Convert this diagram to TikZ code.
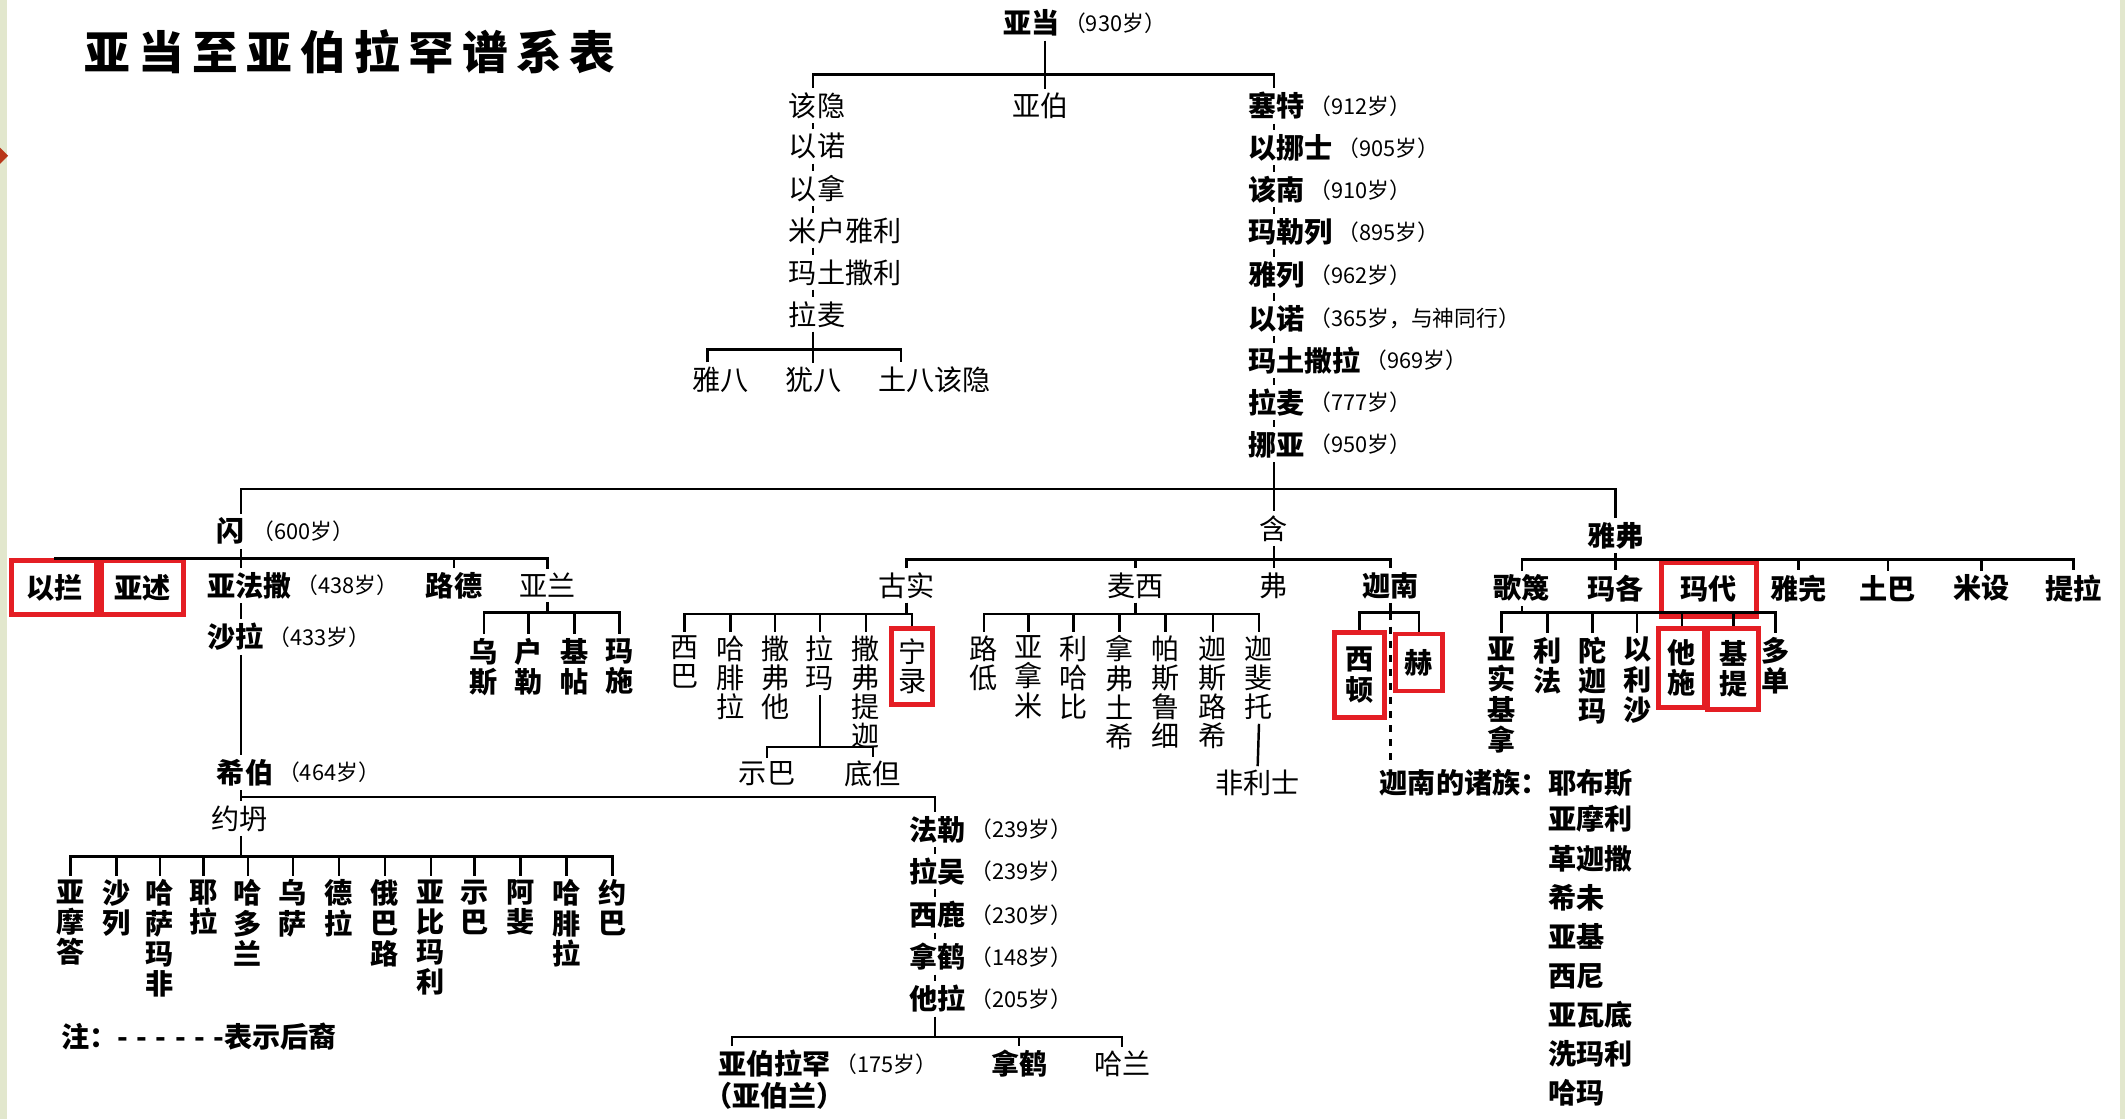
\documentclass[tikz,border=0pt]{standalone}
\usepackage{fontspec}
\setmainfont{Noto Sans CJK SC}
\usetikzlibrary{positioning, calc}
\definecolor{boxRed}{RGB}{228,30,36}
\definecolor{stripGreen}{RGB}{226,231,205}
\definecolor{markRed}{RGB}{185,55,25}

\begin{document}
\begin{tikzpicture}[x=0.013552cm, y=-0.013552cm,
    nm/.style={inner sep=1pt, font=\fontsize{8}{9}\selectfont\bfseries},
    nml/.style={inner sep=1pt, font=\fontsize{8}{9}\selectfont},
    age/.style={inner sep=0pt, font=\fontsize{6.2}{7}\selectfont},
    vt/.style={inner sep=1pt, anchor=north, align=center, font=\fontsize{8}{8.6}\selectfont\bfseries},
    vtl/.style={vt, font=\fontsize{8}{8.3}\selectfont},
    redbox/.style={draw=boxRed, line width=1.4pt, inner sep=0pt},
    link/.style={line width=0.7pt}]

% 页面与边条
\useasboundingbox (0,0) rectangle (1568,826);
\fill[white] (0,0) rectangle (1568,826);
\fill[stripGreen] (0,0) rectangle (5,826);
\fill[stripGreen] (1564,0) rectangle (1568,826);
\fill[markRed] (0,109) -- (6,115) -- (0,121) -- cycle;

% 标题
\node[anchor=west, inner sep=0pt, font=\fontsize{13}{15}\selectfont\bfseries\addfontfeature{LetterSpace=18}] (title) at (62,38) {亚当至亚伯拉罕谱系表};

% 亚当
\node[nm, anchor=west] (adam) at (737,17) {亚当};
\node[age, right=0pt of adam] (adamAge) {（930岁）};
\coordinate (adamBar) at (771,55);
\coordinate (cainCol) at (600,0);
\coordinate (sethCol) at (940,0);
\node[nml] (abel) at (768,78) {亚伯};

% 该隐一支
\node[nml, anchor=west] (cain) at (579,78) {该隐};
\node[nml, anchor=west] (enochC) at (579,108) {以诺};
\node[nml, anchor=west] (irad) at (579,139) {以拿};
\node[nml, anchor=west] (mehujael) at (579,170) {米户雅利};
\node[nml, anchor=west] (methushael) at (579,201) {玛土撒利};
\node[nml, anchor=west] (lamechC) at (579,232) {拉麦};
\draw[link] (cain.south -| cainCol) -- (enochC.north -| cainCol);
\draw[link] (enochC.south -| cainCol) -- (irad.north -| cainCol);
\draw[link] (irad.south -| cainCol) -- (mehujael.north -| cainCol);
\draw[link] (mehujael.south -| cainCol) -- (methushael.north -| cainCol);
\draw[link] (methushael.south -| cainCol) -- (lamechC.north -| cainCol);
\coordinate (lamechBar) at (600,258);
\node[nml] (jabal) at (532,280) {雅八};
\node[nml] (jubal) at (600,280) {犹八};
\node[nml, anchor=west] (tubalcain) at (645,280) {土八该隐};
\draw[link] (lamechC.south -| cainCol) -- (jubal.north -| cainCol);
\draw[link] ($(jabal.north)+(-10,0)$) |- (lamechBar) -| ($(tubalcain.north west)+(20,0)$);

% 塞特一支
\node[nm, anchor=west] (seth) at (918,78) {塞特};
\node[age, right=0pt of seth] (sethAge) {（912岁）};
\node[nm, anchor=west] (enosh) at (918,109) {以挪士};
\node[age, right=0pt of enosh] (enoshAge) {（905岁）};
\node[nm, anchor=west] (kenan) at (918,140) {该南};
\node[age, right=0pt of kenan] (kenanAge) {（910岁）};
\node[nm, anchor=west] (mahalalel) at (918,171) {玛勒列};
\node[age, right=0pt of mahalalel] (mahalalelAge) {（895岁）};
\node[nm, anchor=west] (jared) at (918,203) {雅列};
\node[age, right=0pt of jared] (jaredAge) {（962岁）};
\node[nm, anchor=west] (enochS) at (918,235) {以诺};
\node[age, right=0pt of enochS] (enochSAge) {（365岁，与神同行）};
\node[nm, anchor=west] (methuselah) at (918,266) {玛土撒拉};
\node[age, right=0pt of methuselah] (methuselahAge) {（969岁）};
\node[nm, anchor=west] (lamechS) at (918,297) {拉麦};
\node[age, right=0pt of lamechS] (lamechSAge) {（777岁）};
\node[nm, anchor=west] (noah) at (918,328) {挪亚};
\node[age, right=0pt of noah] (noahAge) {（950岁）};
\draw[link] (seth.south -| sethCol) -- (enosh.north -| sethCol);
\draw[link] (enosh.south -| sethCol) -- (kenan.north -| sethCol);
\draw[link] (kenan.south -| sethCol) -- (mahalalel.north -| sethCol);
\draw[link] (mahalalel.south -| sethCol) -- (jared.north -| sethCol);
\draw[link] (jared.south -| sethCol) -- (enochS.north -| sethCol);
\draw[link] (enochS.south -| sethCol) -- (methuselah.north -| sethCol);
\draw[link] (methuselah.south -| sethCol) -- (lamechS.north -| sethCol);
\draw[link] (lamechS.south -| sethCol) -- (noah.north -| sethCol);

% 亚当的三个儿子
\draw[link] (adam.south -| adamBar) -- (abel.north -| adamBar);
\draw[link] (adamBar) -| (cain.north -| cainCol);
\draw[link] (adamBar) -| (seth.north -| sethCol);

% 挪亚的三个儿子
\coordinate (noahBar) at (940,361);
\coordinate (shemCol) at (178,0);
\node[nm] (shem) at (170,392) {闪};
\node[age, right=1pt of shem] (shemAge) {（600岁）};
\node[nml] (ham) at (940,390) {含};
\node[nm] (japheth) at (1192,395) {雅弗};
\draw[link] (noah.south -| sethCol) -- (noahBar) -- (ham.north);
\draw[link] (noahBar) -| (shem.north -| shemCol);
\draw[link] (noahBar) -| (japheth.north);

% 闪的后代
\coordinate (shemBar) at (178,412);
\node[nm, redbox, anchor=north, minimum width=0.85cm, minimum height=0.54cm] (elam) at (40,412) {以拦};
\node[nm, redbox, anchor=north, minimum width=0.82cm, minimum height=0.54cm] (asshur) at (105,412) {亚述};
\node[nm, anchor=west] (arphaxad) at (150,432) {亚法撒};
\node[age, right=0pt of arphaxad] (arphaxadAge) {（438岁）};
\node[nm] (lud) at (335,432) {路德};
\node[nml] (aram) at (404,432) {亚兰};
\draw[link] (shem.south -| shemCol) -- (shemBar) -- (arphaxad.north -| shemCol);
\draw[link] (shemBar) -| (elam.north);
\draw[link] (shemBar) -| (asshur.north);
\draw[link] (shemBar) -| (lud.north);
\draw[link] (shemBar) -| (aram.north);

% 亚兰的儿子
\coordinate (aramBar) at (404,452);
\node[vt] (uz) at (357,468) {乌\\斯};
\node[vt] (hul) at (390,468) {户\\勒};
\node[vt] (gether) at (424,468) {基\\帖};
\node[vt] (mash) at (457,468) {玛\\施};
\draw[link] (aram.south) -- (aramBar);
\draw[link] (aramBar) -| (uz.north);
\draw[link] (aramBar) -| (hul.north);
\draw[link] (aramBar) -| (gether.north);
\draw[link] (aramBar) -| (mash.north);

% 沙拉、希伯、约坍
\node[nm, anchor=west] (shelah) at (150,470) {沙拉};
\node[age, right=0pt of shelah] (shelahAge) {（433岁）};
\node[nm, anchor=west] (eber) at (157,570) {希伯};
\node[age, right=0pt of eber] (eberAge) {（464岁）};
\node[nml] (joktan) at (177,604) {约坍};
\coordinate (eberBar) at (178,588);
\coordinate (joktanBar) at (178,632);
\draw[link] (arphaxad.south -| shemCol) -- (shelah.north -| shemCol);
\draw[link] (shelah.south -| shemCol) -- (eber.north -| shemCol);
\draw[link] (eber.south -| shemCol) -- (eberBar) -- (joktan.north -| shemCol);
\draw[link] (joktan.south -| shemCol) -- (joktanBar);

% 约坍的儿子
\node[vt] (jk1) at (52,646) {亚\\摩\\答};
\node[vt] (jk2) at (86,646) {沙\\列};
\node[vt] (jk3) at (118,646) {哈\\萨\\玛\\非};
\node[vt] (jk4) at (150,646) {耶\\拉};
\node[vt] (jk5) at (183,646) {哈\\多\\兰};
\node[vt] (jk6) at (216,646) {乌\\萨};
\node[vt] (jk7) at (250,646) {德\\拉};
\node[vt] (jk8) at (284,646) {俄\\巴\\路};
\node[vt] (jk9) at (318,646) {亚\\比\\玛\\利};
\node[vt] (jk10) at (350,646) {示\\巴};
\node[vt] (jk11) at (384,646) {阿\\斐};
\node[vt] (jk12) at (418,646) {哈\\腓\\拉};
\node[vt] (jk13) at (452,646) {约\\巴};
\draw[link] (joktanBar) -| (jk1.north);
\draw[link] (joktanBar) -| (jk2.north);
\draw[link] (joktanBar) -| (jk3.north);
\draw[link] (joktanBar) -| (jk4.north);
\draw[link] (joktanBar) -| (jk5.north);
\draw[link] (joktanBar) -| (jk6.north);
\draw[link] (joktanBar) -| (jk7.north);
\draw[link] (joktanBar) -| (jk8.north);
\draw[link] (joktanBar) -| (jk9.north);
\draw[link] (joktanBar) -| (jk10.north);
\draw[link] (joktanBar) -| (jk11.north);
\draw[link] (joktanBar) -| (jk12.north);
\draw[link] (joktanBar) -| (jk13.north);

% 注
\node[nm, anchor=west] (note) at (42,765) {注：{\addfontfeature{LetterSpace=30}-{}-{}-{}-{}-{}-}表示后裔};

% 法勒到他拉
\coordinate (abrCol) at (690,0);
\node[nm, anchor=west] (peleg) at (668,612) {法勒};
\node[age, right=0pt of peleg] (pelegAge) {（239岁）};
\node[nm, anchor=west] (reu) at (668,643) {拉吴};
\node[age, right=0pt of reu] (reuAge) {（239岁）};
\node[nm, anchor=west] (serug) at (668,675) {西鹿};
\node[age, right=0pt of serug] (serugAge) {（230岁）};
\node[nm, anchor=west] (nahorA) at (668,706) {拿鹤};
\node[age, right=0pt of nahorA] (nahorAAge) {（148岁）};
\node[nm, anchor=west] (terah) at (668,737) {他拉};
\node[age, right=0pt of terah] (terahAge) {（205岁）};
\draw[link] (eberBar) -| (peleg.north -| abrCol);
\draw[link] (peleg.south -| abrCol) -- (reu.north -| abrCol);
\draw[link] (reu.south -| abrCol) -- (serug.north -| abrCol);
\draw[link] (serug.south -| abrCol) -- (nahorA.north -| abrCol);
\draw[link] (nahorA.south -| abrCol) -- (terah.north -| abrCol);

% 他拉的儿子
\coordinate (terahBar) at (690,765);
\node[nm, anchor=west] (abram) at (527,785) {亚伯拉罕};
\node[age, right=0pt of abram] (abramAge) {（175岁）};
\node[nm, anchor=north west, inner sep=0pt] (abramAlt) at ([xshift=-3pt]abram.south west) {（亚伯兰）};
\node[nm] (nahorB) at (752,785) {拿鹤};
\node[nml] (haran) at (828,785) {哈兰};
\draw[link] (terah.south -| abrCol) -- (terahBar);
\draw[link] ($(abram.north west)+(13,0)$) |- (terahBar);
\draw[link] (terahBar) -| (nahorB.north);
\draw[link] (terahBar) -| (haran.north);

% 含的后代
\coordinate (hamBar) at (940,413);
\node[nml] (cush) at (669,432) {古实};
\node[nml] (mizraim) at (838,432) {麦西};
\node[nml] (phut) at (940,432) {弗};
\node[nm] (canaan) at (1026,432) {迦南};
\draw[link] (ham.south) -- (hamBar) -- (phut.north);
\draw[link] (hamBar) -| (cush.north);
\draw[link] (hamBar) -| (mizraim.north);
\draw[link] (hamBar) -| (canaan.north);

% 古实的儿子
\coordinate (cushBar) at (669,453);
\node[vtl] (seba) at (505,466) {西\\巴};
\node[vtl] (havilah) at (539,466) {哈\\腓\\拉};
\node[vtl] (sabtah) at (572,466) {撒\\弗\\他};
\node[vtl] (raamah) at (605,466) {拉\\玛};
\node[vtl] (sabteca) at (639,466) {撒\\弗\\提\\迦};
\node[vtl, redbox, minimum width=0.41cm, minimum height=0.76cm] (nimrod) at (673,462) {宁\\录};
\draw[link] (cush.south) -- (cushBar);
\draw[link] (cushBar) -| (seba.north);
\draw[link] (cushBar) -| (havilah.north);
\draw[link] (cushBar) -| (sabtah.north);
\draw[link] (cushBar) -| (raamah.north);
\draw[link] (cushBar) -| (sabteca.north);
\draw[link] (cushBar) -| (nimrod.north);
\coordinate (raamahBar) at (605,551);
\node[nml] (sheba) at (566,571) {示巴};
\node[nml] (dedan) at (644,571) {底但};
\draw[link] (raamah.south) -- (raamahBar);
\draw[link] (raamahBar) -| (sheba.north);
\draw[link] (raamahBar) -| (dedan.north);

% 麦西的儿子
\coordinate (mizraimBar) at (838,453);
\node[vtl] (ludim) at (726,466) {路\\低};
\node[vtl] (anamim) at (759,466) {亚\\拿\\米};
\node[vtl] (lehabim) at (792,466) {利\\哈\\比};
\node[vtl] (naphtuhim) at (826,466) {拿\\弗\\土\\希};
\node[vtl] (pathrusim) at (860,466) {帕\\斯\\鲁\\细};
\node[vtl] (casluhim) at (895,466) {迦\\斯\\路\\希};
\node[vtl] (caphtorim) at (929,466) {迦\\斐\\托};
\node[nml] (philistines) at (928,578) {非利士};
\draw[link] (mizraim.south) -- (mizraimBar);
\draw[link] (mizraimBar) -| (ludim.north);
\draw[link] (mizraimBar) -| (anamim.north);
\draw[link] (mizraimBar) -| (lehabim.north);
\draw[link] (mizraimBar) -| (naphtuhim.north);
\draw[link] (mizraimBar) -| (pathrusim.north);
\draw[link] (mizraimBar) -| (casluhim.north);
\draw[link] (mizraimBar) -| (caphtorim.north);
\draw[link] (caphtorim.south) -- (philistines.north);

% 迦南的后代
\coordinate (canaanBar) at (1026,452);
\node[vt, redbox, minimum width=0.5cm, minimum height=0.85cm] (sidon) at (1003,465) {西\\顿};
\node[vt, redbox, minimum width=0.47cm, minimum height=0.57cm] (heth) at (1047,466) {赫};
\node[nm, anchor=west] (tribes) at (1015,578) {迦南的诸族：耶布斯};
\node[nm, anchor=north east, align=left, font=\fontsize{8}{11.1}\selectfont\bfseries] (tribeList) at (tribes.south east) {亚摩利\\革迦撒\\希未\\亚基\\西尼\\亚瓦底\\洗玛利\\哈玛};
\draw[link] (canaan.south) -- (canaanBar);
\draw[link] (canaanBar) -| (sidon.north);
\draw[link] (canaanBar) -| (heth.north);
\draw[link, dash pattern=on 2pt off 2pt] (canaanBar) -- (tribes.north -| canaanBar);

% 雅弗的后代
\coordinate (japhethBar) at (1192,413);
\node[nm] (gomer) at (1123,434) {歌篾};
\node[nm] (magog) at (1192,434) {玛各};
\node[nm, redbox, anchor=north, minimum width=0.95cm, minimum height=0.54cm] (madai) at (1261,413) {玛代};
\node[nm] (javan) at (1327,434) {雅完};
\node[nm] (tubal) at (1393,434) {土巴};
\node[nm] (meshech) at (1462,434) {米设};
\node[nm] (tiras) at (1530,434) {提拉};
\draw[link] (japheth.south) -- (japhethBar);
\draw[link] (japhethBar) -| (gomer.north);
\draw[link] (japhethBar) -- (magog.north);
\draw[link] (japhethBar) -| (madai.north);
\draw[link] (japhethBar) -| (javan.north);
\draw[link] (japhethBar) -| (tubal.north);
\draw[link] (japhethBar) -| (meshech.north);
\draw[link] (japhethBar) -| (tiras.north);

% 歌篾一行
\coordinate (gomerBar) at (1123,452);
\node[vt] (ashkenaz) at (1108,467) {亚\\实\\基\\拿};
\node[vt] (riphath) at (1142,467) {利\\法};
\node[vt] (togarmah) at (1175,467) {陀\\迦\\玛};
\node[vt] (elishah) at (1208,467) {以\\利\\沙};
\node[vt, redbox, minimum width=0.46cm, minimum height=0.79cm] (tarshish) at (1241,462) {他\\施};
\node[vt, redbox, minimum width=0.51cm, minimum height=0.81cm] (kittim) at (1279,462) {基\\提};
\node[vt] (dodanim) at (1310,467) {多\\单};
\draw[link] (gomer.south) -- (gomerBar);
\draw[link] (gomerBar) -| (ashkenaz.north);
\draw[link] (gomerBar) -| (riphath.north);
\draw[link] (gomerBar) -| (togarmah.north);
\draw[link] (gomerBar) -| (elishah.north);
\draw[link] (gomerBar) -| (tarshish.north);
\draw[link] (gomerBar) -| (kittim.north);
\draw[link] (gomerBar) -| (dodanim.north);

\end{tikzpicture}
\end{document}
